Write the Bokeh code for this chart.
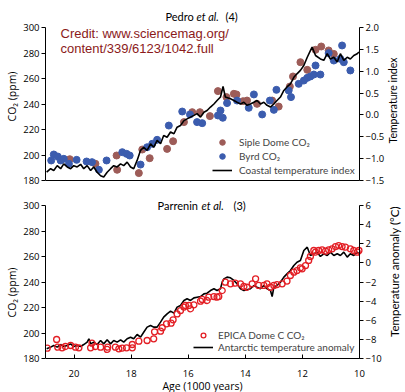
import math
from bokeh.plotting import figure
from bokeh.models import Range1d, LinearAxis, FixedTicker, Legend, LegendItem, Label
from bokeh.layouts import column
from bokeh.embed import file_html
from bokeh.resources import INLINE

# ---------------- Data: top panel (Pedro et al.) ----------------
coastal_age = [20.96, 20.82, 20.71, 20.59, 20.47, 20.36, 20.24, 20.12, 20.01, 19.89, 19.77, 19.66, 19.54, 19.42, 19.31,
               19.19, 19.07, 18.96, 18.84, 18.72, 18.61, 18.49, 18.37, 18.26, 18.14, 18.02, 17.91, 17.79, 17.67, 17.56,
               17.44, 17.32, 17.21, 17.09, 16.97, 16.86, 16.74, 16.62, 16.50, 16.39, 16.27, 16.15, 16.04, 15.92, 15.80,
               15.69, 15.57, 15.45, 15.34, 15.22, 15.10, 14.99, 14.87, 14.78, 14.70, 14.52, 14.40, 14.29, 14.17, 14.05,
               13.94, 13.82, 13.70, 13.59, 13.47, 13.35, 13.24, 13.12, 13.00, 12.89, 12.77, 12.65, 12.54, 12.42, 12.30,
               12.19, 12.07, 11.95, 11.83, 11.72, 11.66, 11.54, 11.37, 11.25, 11.13, 11.02, 10.90, 10.78, 10.67, 10.55,
               10.43, 10.32, 10.20, 10.08, 10.02]
coastal_temp = [-1.31, -1.23, -1.27, -1.16, -1.23, -1.12, -1.19, -1.23, -1.16, -1.19, -1.13, -1.23, -1.16, -1.27, -1.19,
                -1.31, -1.39, -1.42, -1.31, -1.23, -1.16, -1.19, -1.12, -1.16, -1.08, -1.19, -1.23, -1.04, -0.81, -0.74,
                -0.81, -0.66, -0.74, -0.58, -0.66, -0.47, -0.51, -0.39, -0.43, -0.28, -0.24, -0.13, -0.09, -0.05, -0.01,
                0.03, -0.05, 0.06, 0.10, 0.18, 0.25, 0.33, 0.41, 0.65, 0.41, 0.37, 0.33, 0.29, 0.25, 0.29,
                0.22, 0.25, 0.29, 0.33, 0.25, 0.29, 0.22, 0.18, 0.25, 0.33, 0.41, 0.56, 0.64, 0.71, 0.86,
                0.94, 1.02, 1.13, 1.32, 1.47, 1.55, 1.36, 1.28, 1.25, 1.40, 1.28, 1.32, 1.21, 1.40, 1.25,
                1.32, 1.28, 1.36, 1.40, 1.44]

siple_age = [20.15, 19.25, 18.51, 18.49, 17.73, 17.61, 17.35, 16.74, 16.53, 16.15, 15.86, 15.59, 15.24, 14.96, 14.66,
             14.40, 14.31, 14.08, 13.94, 13.59, 13.06, 12.83, 12.44, 12.33, 12.07, 11.83, 11.54, 11.34, 11.08, 10.90]
siple_co2 = [196.7, 193.1, 199.6, 188.4, 185.8, 204.3, 197.5, 204.8, 210.8, 225.8, 233.6, 233.6, 230.5, 250.1, 245.4,
             248.0, 247.5, 242.2, 242.7, 240.1, 242.7, 238.0, 253.7, 261.6, 272.8, 266.8, 282.5, 285.1, 282.0, 279.3]

byrd_age = [20.80, 20.71, 20.57, 20.47, 20.36, 20.18, 19.91, 19.56, 19.37, 19.13, 18.86, 18.31, 18.16, 18.05, 17.67,
            17.44, 17.26, 17.09, 16.68, 16.21, 15.94, 15.69, 15.51, 14.96, 14.87, 14.79, 14.64, 14.29, 13.88, 13.70,
            13.41, 13.14, 13.00, 12.91, 12.48, 12.40, 12.13, 11.95, 11.83, 11.72, 11.60, 11.54, 11.37, 11.08, 10.90,
            10.67, 10.61, 10.55, 10.32]
byrd_co2 = [195.7, 200.4, 198.8, 195.7, 197.0, 193.1, 196.2, 194.9, 194.4, 188.4, 195.7, 202.2, 200.9, 199.6, 192.5,
            206.1, 208.8, 211.9, 223.1, 234.1, 231.8, 225.8, 225.0, 231.0, 234.9, 229.2, 240.7, 242.7, 237.0, 247.5,
            231.8, 242.7, 235.4, 251.1, 250.6, 245.4, 255.8, 258.4, 260.5, 261.6, 263.1, 270.2, 263.1, 279.9, 274.1,
            275.4, 285.9, 272.8, 266.3]

# ---------------- Data: bottom panel (Parrenin et al.) ----------------
antarctic_age = [20.96, 20.82, 20.71, 20.59, 20.47, 20.36, 20.24, 20.12, 20.01, 19.89, 19.77, 19.66, 19.54, 19.48, 19.42,
                 19.31, 19.19, 19.07, 18.96, 18.84, 18.72, 18.61, 18.49, 18.37, 18.26, 18.14, 18.02, 17.91, 17.79, 17.67,
                 17.56, 17.44, 17.32, 17.21, 17.09, 16.97, 16.86, 16.74, 16.62, 16.50, 16.39, 16.27, 16.15, 16.04, 15.92,
                 15.80, 15.69, 15.57, 15.45, 15.34, 15.22, 15.10, 14.99, 14.87, 14.81, 14.75, 14.64, 14.52, 14.40, 14.29,
                 14.17, 14.05, 13.94, 13.82, 13.70, 13.59, 13.47, 13.35, 13.24, 13.12, 13.06, 13.00, 12.89, 12.77, 12.65,
                 12.54, 12.42, 12.30, 12.19, 12.07, 12.01, 11.95, 11.83, 11.72, 11.60, 11.48, 11.37, 11.25, 11.13, 11.02,
                 10.90, 10.78, 10.67, 10.55, 10.43, 10.32, 10.20, 10.08, 10.02]
antarctic_temp = [-8.99, -8.81, -8.64, -8.81, -8.54, -8.75, -8.64, -8.47, -8.75, -8.64, -8.75, -8.54, -8.29, -7.94, -8.47,
                  -8.29, -8.54, -8.12, -8.47, -8.05, -8.47, -8.12, -8.29, -8.05, -8.29, -7.94, -7.77, -7.94, -7.49, -7.77,
                  -7.25, -6.72, -6.55, -6.72, -6.72, -6.20, -5.68, -5.33, -5.05, -5.26, -4.63, -4.46, -3.93, -3.76, -3.93,
                  -3.66, -3.59, -3.52, -3.24, -3.17, -2.89, -2.71, -2.89, -2.71, -2.02, -1.67, -1.49, -1.56, -1.84, -2.19,
                  -2.71, -2.89, -2.82, -2.71, -2.37, -2.54, -2.71, -2.37, -2.71, -2.89, -3.52, -2.54, -2.37, -2.02, -1.49,
                  -1.15, -0.80, -0.27, 0.07, 0.25, 0.77, 1.29, 1.64, 0.77, 0.95, 1.12, 0.67, 0.95, 0.77, 1.12,
                  0.77, 0.95, 0.77, 1.12, 0.60, 0.95, 0.77, 1.12, 0.95]

epica_age = [20.94, 20.61, 20.57, 20.42, 20.30, 20.12, 19.95, 19.83, 19.42, 19.37, 19.25, 19.07, 18.84, 18.82, 18.55,
             18.43, 18.31, 18.16, 17.96, 17.96, 17.73, 17.44, 17.21, 17.18, 16.97, 16.91, 16.76, 16.60, 16.53, 16.39,
             16.27, 16.15, 16.10, 15.98, 15.92, 15.80, 15.57, 15.51, 15.34, 15.28, 15.10, 14.99, 14.93, 14.81, 14.70,
             14.52, 14.35, 14.17, 14.05, 13.94, 13.76, 13.64, 13.53, 13.35, 13.24, 13.12, 13.00, 12.89, 12.71, 12.54,
             12.42, 12.30, 12.19, 12.07, 12.01, 11.89, 11.78, 11.72, 11.60, 11.54, 11.43, 11.31, 11.19, 11.08, 10.96,
             10.84, 10.73, 10.61, 10.49, 10.32, 10.20, 10.08, 10.02]
epica_co2 = [188.1, 194.9, 188.9, 188.4, 189.4, 190.2, 188.9, 188.4, 188.4, 192.0, 189.4, 188.9, 187.1, 188.9, 188.9,
             187.6, 188.1, 188.4, 188.4, 191.0, 193.6, 194.1, 195.4, 200.9, 201.4, 204.1, 207.2, 207.7, 210.3, 215.0,
             217.6, 220.3, 221.6, 221.6, 219.0, 222.1, 225.0, 226.3, 225.5, 228.1, 228.6, 228.1, 228.6, 233.3, 239.9,
             238.6, 239.1, 238.6, 236.5, 235.9, 238.6, 242.5, 237.3, 237.3, 238.6, 235.9, 237.3, 238.0, 238.6, 240.7,
             245.1, 247.7, 249.0, 251.1, 250.3, 252.9, 256.9, 260.0, 264.7, 263.4, 264.7, 265.2, 264.2, 265.2, 266.0,
             267.8, 268.6, 267.8, 267.3, 266.0, 264.7, 263.4, 264.7]

# ---------------- Ticks ----------------
co2_ticks = [180, 200, 220, 240, 260, 280, 300]
age_ticks = [20, 18, 16, 14, 12, 10]
top_temp_ticks = [-1.5, -1.0, -0.5, 0.0, 0.5, 1.0, 1.5, 2.0]
top_temp_labels = ["\u22121.5", "\u22121.0", "\u22120.5", "0.0", "0.5", "1.0", "1.5", "2.0"]
bot_temp_ticks = [-10, -8, -6, -4, -2, 0, 2, 4, 6]
bot_temp_labels = ["\u221210", "\u22128", "\u22126", "\u22124", "\u22122", "0", "2", "4", "6"]

FONT = "Open Sans"
LFONT = "Lato"
SIPLE_COLOR = "#9d5c58"
BYRD_COLOR = "#3b5cae"
EPICA_COLOR = "#e31e24"
CREDIT_COLOR = "#8b1a1a"

# layout constants (pixels)
W = 405
FRAME_LEFT = 45
AXIS_PX = 314          # pixels spanned by ages 21 -> 10
PANEL_PX = 153         # pixels spanned by 180 -> 300 ppm
X_END = 10 - (W - FRAME_LEFT - AXIS_PX) * 11.0 / AXIS_PX


def style_axis(ax, tick_in=0, tick_out=4):
    ax.axis_line_color = "black"
    ax.axis_line_width = 1
    ax.major_tick_line_color = "black"
    ax.major_tick_in = tick_in
    ax.major_tick_out = tick_out
    ax.minor_tick_line_color = None
    ax.major_label_text_font = FONT
    ax.major_label_text_font_size = "9.5px"
    ax.major_label_text_color = "black"
    ax.major_label_standoff = 2
    ax.axis_label_text_font = FONT
    ax.axis_label_text_font_size = "10.5px"
    ax.axis_label_text_font_style = "normal"
    ax.axis_label_text_color = "black"
    ax.axis_label_standoff = 1


def make_fig(height, extra_top, extra_bottom, t_lo, t_hi, t_ticks, t_labels):
    co2_top = 300 + extra_top * 120.0 / PANEL_PX
    co2_bot = 180 - extra_bottom * 120.0 / PANEL_PX
    t_span = t_hi - t_lo
    t_top = t_hi + extra_top * t_span / PANEL_PX
    t_bot = t_lo - extra_bottom * t_span / PANEL_PX
    p = figure(width=W, height=height, x_range=Range1d(21, X_END), y_range=Range1d(co2_bot, co2_top),
               output_backend="svg", toolbar_location=None, tools="",
               min_border_left=FRAME_LEFT, min_border_right=0, min_border_top=0, min_border_bottom=0)
    p.extra_y_ranges = {"temp": Range1d(t_bot, t_top)}
    p.outline_line_color = None
    p.grid.visible = False
    p.background_fill_color = "white"
    p.border_fill_color = "white"
    yl = p.yaxis[0]
    yl.ticker = FixedTicker(ticks=co2_ticks)
    yl.bounds = (180, 300)
    yl.axis_label = "CO\u2082 (ppm)"
    style_axis(yl)
    yr = LinearAxis(y_range_name="temp", ticker=FixedTicker(ticks=t_ticks),
                    major_label_overrides=dict(zip(t_ticks, t_labels)),
                    fixed_location=10, bounds=(t_lo, t_hi))
    style_axis(yr)
    p.add_layout(yr, "right")
    xa = p.xaxis[0]
    xa.bounds = (10, 21)
    xa.fixed_location = 180
    return p


# ---------------- Top panel ----------------
top = make_fig(192, 27, 12, -1.5, 2.0, top_temp_ticks, top_temp_labels)
xt = top.xaxis[0]
style_axis(xt, 0, 0)
xt.ticker = FixedTicker(ticks=[])
xt.major_label_text_font_size = "0px"
xt.major_label_standoff = 0

r_siple = top.scatter(siple_age, siple_co2, size=7, fill_color=SIPLE_COLOR, line_color=SIPLE_COLOR)
r_byrd = top.scatter(byrd_age, byrd_co2, size=7, fill_color=BYRD_COLOR, line_color=BYRD_COLOR)
r_coast = top.line(coastal_age, coastal_temp, y_range_name="temp", line_color="black", line_width=1.6)

top.add_layout(Legend(items=[LegendItem(label="Siple Dome CO\u2082", renderers=[r_siple]),
                             LegendItem(label="Byrd CO\u2082", renderers=[r_byrd]),
                             LegendItem(label="Coastal temperature index", renderers=[r_coast])],
                      location=(167, 15), glyph_width=20, glyph_height=14, label_height=14, label_width=10,
                      spacing=0, padding=0, margin=0, label_standoff=7,
                      label_text_font=LFONT, label_text_font_size="10px",
                      border_line_color=None, background_fill_alpha=0))

for txt, xs, style in [("Pedro", 120, "normal"), ("et al.", 151, "italic"), ("(4)", 180, "normal")]:
    top.add_layout(Label(x=xs, y=308.6, x_units="screen", y_units="data", text=txt,
                         text_font=LFONT, text_font_size="11px", text_font_style=style,
                         text_baseline="middle", text_align="left", text_color="black"))
for txt, yv in [("Credit: www.sciencemag.org/", 295.3), ("content/339/6123/1042.full", 283.5)]:
    top.add_layout(Label(x=15, y=yv, x_units="screen", y_units="data", text=txt,
                         text_font="Liberation Sans", text_font_size="13px",
                         text_baseline="middle", text_align="left", text_color=CREDIT_COLOR))
top.add_layout(Label(x=347, y=242.7, x_units="screen", y_units="data", text="Temperature index",
                     angle=math.pi / 2, text_font=LFONT, text_font_size="10.5px",
                     text_baseline="middle", text_align="center", text_color="black"))

# ---------------- Bottom panel ----------------
bot = make_fig(200, 13, 34, -10, 6, bot_temp_ticks, bot_temp_labels)
xb = bot.xaxis[0]
style_axis(xb, 4, 0)
xb.ticker = FixedTicker(ticks=age_ticks)
xb.major_label_standoff = 11

r_ant = bot.line(antarctic_age, antarctic_temp, y_range_name="temp", line_color="black", line_width=1.6)
r_epica = bot.scatter(epica_age, epica_co2, size=6, fill_color=None, line_color=EPICA_COLOR, line_width=1.3)

bot.add_layout(Legend(items=[LegendItem(label="EPICA Dome C CO\u2082", renderers=[r_epica]),
                             LegendItem(label="Antarctic temperature anomaly", renderers=[r_ant])],
                      location=(148, 39), glyph_width=20, glyph_height=12, label_height=12, label_width=10,
                      spacing=0, padding=0, margin=0, label_standoff=5,
                      label_text_font=LFONT, label_text_font_size="10px",
                      border_line_color=None, background_fill_alpha=0))

for txt, xs, style in [("Parrenin", 112, "normal"), ("et al.", 156, "italic"), ("(3)", 188, "normal")]:
    bot.add_layout(Label(x=xs, y=300.0, x_units="screen", y_units="data", text=txt,
                         text_font=LFONT, text_font_size="11px", text_font_style=style,
                         text_baseline="middle", text_align="left", text_color="black"))
bot.add_layout(Label(x=349, y=248.2, x_units="screen", y_units="data", text="Temperature anomaly (\u00b0C)",
                     angle=math.pi / 2, text_font=LFONT, text_font_size="11.5px",
                     text_baseline="middle", text_align="center", text_color="black"))
bot.add_layout(Label(x=157, y=7, x_units="screen", y_units="screen", text="Age (1000 years)",
                     text_font=FONT, text_font_size="10.5px",
                     text_baseline="middle", text_align="center", text_color="black"))

layout = column(top, bot, spacing=0)
open("out.html", "w").write(file_html(layout, INLINE))
